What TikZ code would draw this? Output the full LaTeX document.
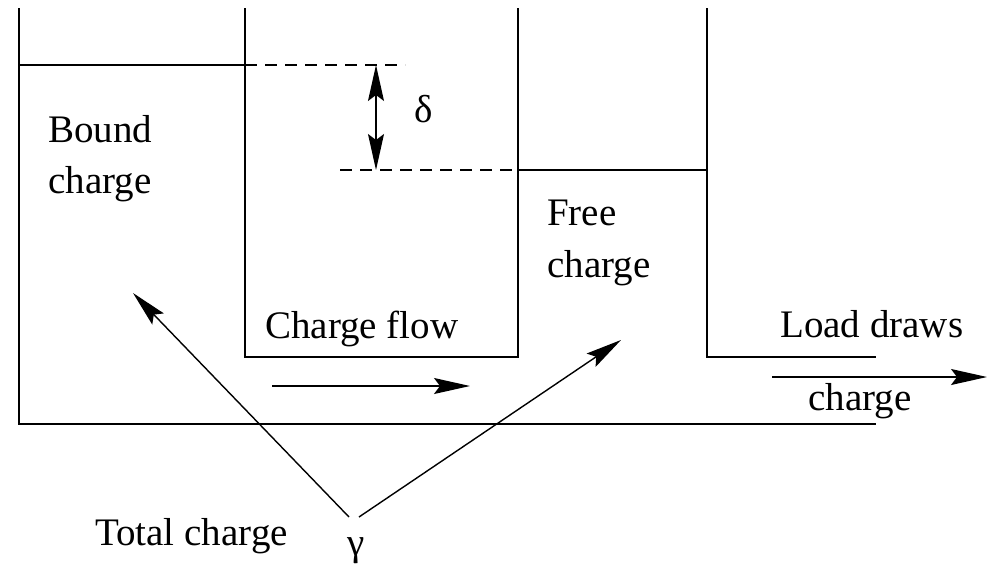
\documentclass[tikz,border=0pt]{standalone}
\usepackage{fontspec}
\setmainfont{Liberation Serif}
\usetikzlibrary{arrows.meta}
\begin{document}
\begin{tikzpicture}[x=1pt,y=-1pt,
  wall/.style={line width=1.4pt},
  dash line/.style={line width=1.3pt,dash pattern=on 12pt off 8pt},
  tip/.tip={Stealth[length=36pt,width=16pt,inset=6pt]},
  arr/.style={line width=1.4pt,-tip},
  darr/.style={line width=1.4pt,tip-tip},
  lbl/.style={anchor=base west,inner sep=0pt,font=\fontsize{39}{51}\selectfont}]
\useasboundingbox (0,0) rectangle (992,563);
% coordinates of the tanks
\coordinate (a1) at (19,8);
\coordinate (a2) at (19,424);
\coordinate (a3) at (876,424);
\coordinate (b1) at (245,8);
\coordinate (b2) at (245,357);
\coordinate (c1) at (518,8);
\coordinate (c2) at (518,357);
\coordinate (d1) at (707,8);
\coordinate (d2) at (707,357);
\coordinate (d3) at (876,357);
\coordinate (lv1) at (19,65);
\coordinate (lv2) at (245,65);
\coordinate (dl1) at (405,65);
\coordinate (dl2) at (340,170);
\coordinate (rv1) at (518,170);
\coordinate (rv2) at (707,170);
\coordinate (dt) at (376,65);
\coordinate (db) at (376,170);
\coordinate (f1) at (272,386);
\coordinate (f2) at (470,386);
\coordinate (g1) at (772,377);
\coordinate (g2) at (987,377);
\coordinate (gl) at (349,517);
\coordinate (gr) at (359,517);
\coordinate (tl) at (133,293);
\coordinate (tr) at (621,340);
% walls
\draw[wall] (a1) -- (a2) -- (a3);
\draw[wall] (b1) -- (b2) -- (c2) -- (c1);
\draw[wall] (d1) -- (d2) -- (d3);
% levels
\draw[wall] (lv1) -- (lv2);
\draw[dash line] (lv2) -- (dl1);
\draw[dash line] (dl2) -- (rv1);
\draw[wall] (rv1) -- (rv2);
\draw[darr] (dt) -- (db);
% flow arrows
\draw[arr] (f1) -- (f2);
\draw[arr] (g1) -- (g2);
\draw[arr] (gl) -- (tl);
\draw[arr] (gr) -- (tr);
% labels
\node[lbl] (delta) at (414,122) {δ};
\node[lbl] (bound1) at (48,142) {Bound};
\node[lbl] (bound2) at (48,193) {charge};
\node[lbl] (free1) at (547,225) {Free};
\node[lbl] (free2) at (547,277) {charge};
\node[lbl] (flow) at (265,338) {Charge flow};
\node[lbl] (load1) at (780,337) {Load draws};
\node[lbl] (load2) at (808,410) {charge};
\node[lbl] (total) at (95,545) {Total charge};
\node[lbl] (gamma) at (347,555) {γ};
\end{tikzpicture}
\end{document}
